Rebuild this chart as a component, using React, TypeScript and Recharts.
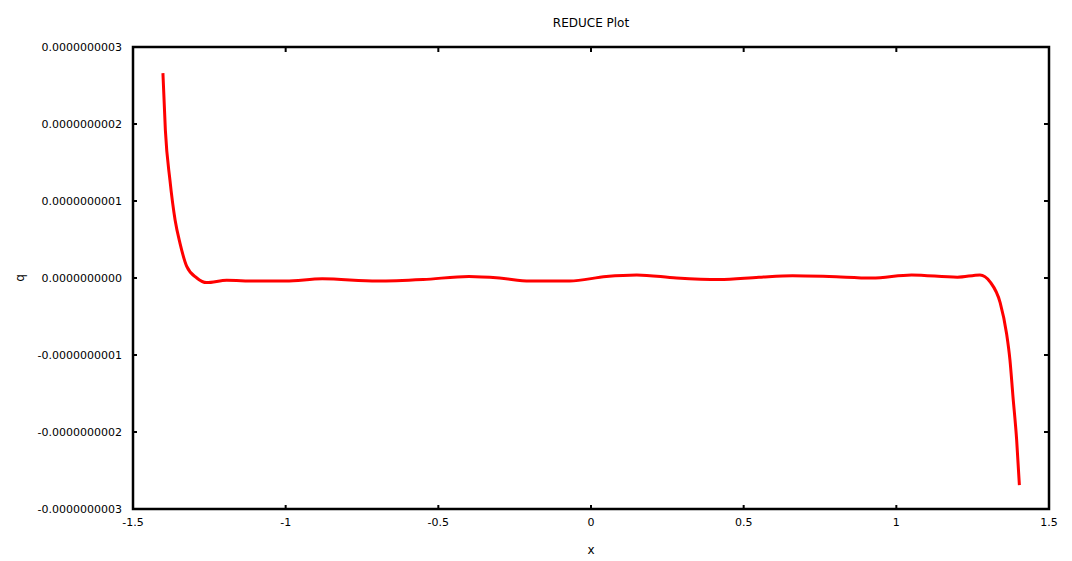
import React from 'react';
import { LineChart, Line, XAxis, YAxis, Label, ReferenceArea } from 'recharts';

const xValues = [
  -1.402, -1.394, -1.379, -1.362, -1.346, -1.324, -1.291, -1.259, -1.193, -1.1, -1.0,
  -0.88, -0.7, -0.55, -0.4, -0.3, -0.2, -0.07, 0.05, 0.15, 0.28, 0.42, 0.55, 0.66,
  0.78, 0.92, 1.05, 1.2, 1.274, 1.307, 1.34, 1.361, 1.372, 1.382, 1.394, 1.403,
];
const qValues = [
  2.66e-10, 1.92e-10, 1.27e-10, 0.75e-10, 0.45e-10, 0.15e-10, 0.0, -0.06e-10, -0.03e-10, -0.04e-10, -0.04e-10,
  -0.01e-10, -0.04e-10, -0.02e-10, 0.02e-10, 0.0, -0.04e-10, -0.04e-10, 0.02e-10, 0.04e-10, 0.0, -0.02e-10, 0.01e-10, 0.03e-10,
  0.02e-10, 0.0, 0.04e-10, 0.01e-10, 0.04e-10, -0.05e-10, -0.32e-10, -0.72e-10, -1.06e-10, -1.54e-10, -2.1e-10, -2.69e-10,
];
const xTicks = [-1.5, -1, -0.5, 0, 0.5, 1, 1.5];
const yTicks = [-3e-10, -2e-10, -1e-10, 0, 1e-10, 2e-10, 3e-10];

const data = xValues.map((x, i) => ({ x, q: qValues[i] }));

const FONT = '"DejaVu Sans", Verdana, sans-serif';

const fmtY = (v: number) => (Math.abs(v) < 1e-15 ? (0).toFixed(10) : v.toFixed(10));

const LeftTick = (props: any) => {
  const { x, y, payload } = props;
  return (
    <g>
      <text x={x} y={y} textAnchor="end" dominantBaseline="central" fontSize={11} fontFamily={FONT} fill="#000">
        {fmtY(payload.value)}
      </text>
      <line x1={x + 11} x2={x + 15} y1={y} y2={y} stroke="#000" strokeWidth={2} />
    </g>
  );
};

const BottomTick = (props: any) => {
  const { x, y, payload } = props;
  return (
    <g>
      <text x={x} y={y + 7} textAnchor="middle" fontSize={11} fontFamily={FONT} fill="#000">
        {String(payload.value)}
      </text>
      <line x1={x} x2={x} y1={y - 10} y2={y - 14} stroke="#000" strokeWidth={2} />
    </g>
  );
};

const TopTick = (props: any) => {
  const { x, y } = props;
  return <line x1={x} x2={x} y1={y} y2={y + 5} stroke="#000" strokeWidth={2} />;
};

const RightTick = (props: any) => {
  const { x, y } = props;
  return <line x1={x} x2={x - 5} y1={y} y2={y} stroke="#000" strokeWidth={2} />;
};

const QLabel = () => (
  <text x={20} y={278} transform="rotate(-90 20 278)" textAnchor="middle" dominantBaseline="central" fontSize={12} fontFamily={FONT} fill="#000">
    q
  </text>
);

export default function App() {
  return (
    <div style={{ position: 'absolute', left: 0, top: 0, width: 1072, height: 561, background: '#fff' }}>
      <div style={{ position: 'absolute', left: 0, width: 1182, top: 16, textAlign: 'center', fontFamily: FONT, fontSize: 12, color: '#000' }}>
        REDUCE Plot
      </div>
      <LineChart width={1072} height={561} data={data} margin={{ top: 46, right: 22, bottom: 0, left: 0 }}>
        <XAxis
          xAxisId="b"
          dataKey="x"
          type="number"
          domain={[-1.5, 1.5]}
          ticks={xTicks}
          allowDataOverflow
          height={52}
          tickSize={0}
          tickMargin={10}
          tickLine={false}
          axisLine={false}
          tick={<BottomTick />}
          interval={0}
        >
          <Label value="x" position="insideBottom" offset={7} fontSize={12} fontFamily={FONT} fill="#000" />
        </XAxis>
        <XAxis
          xAxisId="t"
          orientation="top"
          dataKey="x"
          type="number"
          domain={[-1.5, 1.5]}
          ticks={xTicks}
          allowDataOverflow
          height={1}
          tickSize={0}
          tickMargin={0}
          tickLine={false}
          axisLine={false}
          tick={<TopTick />}
          interval={0}
        />
        <YAxis
          yAxisId="l"
          type="number"
          domain={[-3e-10, 3e-10]}
          ticks={yTicks}
          allowDataOverflow
          width={133}
          tickSize={0}
          tickMargin={11}
          tickLine={false}
          axisLine={false}
          tick={<LeftTick />}
          interval={0}
          label={<QLabel />}
        />
        <YAxis
          yAxisId="r"
          orientation="right"
          type="number"
          domain={[-3e-10, 3e-10]}
          ticks={yTicks}
          allowDataOverflow
          width={1}
          tickSize={0}
          tickMargin={0}
          tickLine={false}
          axisLine={false}
          tick={<RightTick />}
          interval={0}
        />
        <ReferenceArea
          xAxisId="b"
          yAxisId="l"
          x1={-1.5}
          x2={1.5}
          y1={-3e-10}
          y2={3e-10}
          fill="none"
          fillOpacity={0}
          stroke="#000"
          strokeWidth={2.5}
          ifOverflow="visible"
        />
        <Line
          xAxisId="b"
          yAxisId="l"
          dataKey="q"
          type="monotone"
          stroke="#ff0000"
          strokeWidth={3}
          dot={false}
          isAnimationActive={false}
        />
      </LineChart>
    </div>
  );
}
